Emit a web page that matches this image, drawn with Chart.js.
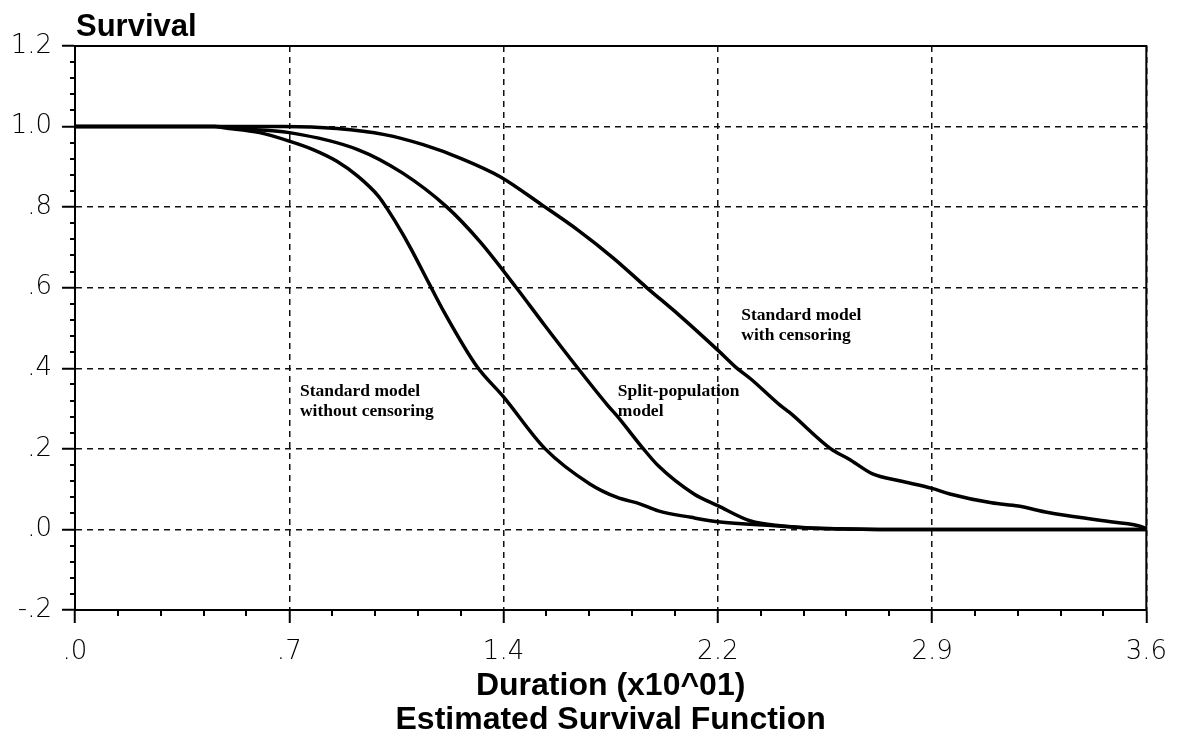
<!DOCTYPE html>
<html><head><meta charset="utf-8">
<script src="https://cdn.jsdelivr.net/npm/chart.js@4"></script>
<style>html,body{margin:0;padding:0;background:#fff}</style>
</head><body>
<canvas id="c" width="1181" height="737"></canvas>
<script>
// ---- data (duration in units of x10^01) ----
const xTickValues = [0, 0.72, 1.44, 2.16, 2.88, 3.6];
const xTickLabels = ['.0', '.7', '1.4', '2.2', '2.9', '3.6'];
const yTickValues = [-0.2, 0, 0.2, 0.4, 0.6, 0.8, 1.0, 1.2];
const yTickLabels = ['-.2', '.0', '.2', '.4', '.6', '.8', '1.0', '1.2'];

const durA  = [0, 0.47, 0.50, 0.62, 0.72, 0.80, 0.88, 0.95, 1.02, 1.05, 1.10, 1.13, 1.19, 1.24, 1.35, 1.44, 1.58, 1.73, 1.82, 1.90, 1.96, 2.07, 2.16, 2.35, 2.51, 2.70, 3.60];
const survA = [1.0, 1.0, 0.997, 0.985, 0.964, 0.943, 0.914, 0.877, 0.827, 0.795, 0.735, 0.695, 0.610, 0.540, 0.405, 0.329, 0.200, 0.113, 0.080, 0.063, 0.046, 0.030, 0.019, 0.009, 0.002, 0.0, 0.0];

const durB  = [0, 0.47, 0.54, 0.72, 0.95, 1.10, 1.25, 1.36, 1.48, 1.58, 1.69, 1.79, 1.82, 1.91, 1.96, 2.08, 2.16, 2.27, 2.37, 2.52, 2.70, 3.60];
const survB = [1.0, 1.0, 0.995, 0.985, 0.943, 0.885, 0.80, 0.715, 0.603, 0.505, 0.400, 0.308, 0.283, 0.200, 0.158, 0.088, 0.059, 0.021, 0.009, 0.002, 0.0, 0.0];

const durC  = [0, 0.70, 0.88, 1.04, 1.17, 1.30, 1.43, 1.57, 1.69, 1.81, 1.92, 2.03, 2.16, 2.22, 2.27, 2.37, 2.40, 2.54, 2.60, 2.68, 2.77, 2.88, 2.94, 3.08, 3.17, 3.27, 3.48, 3.59, 3.60];
const survC = [1.0, 1.0, 0.995, 0.980, 0.955, 0.920, 0.875, 0.805, 0.743, 0.673, 0.601, 0.532, 0.445, 0.403, 0.374, 0.308, 0.291, 0.200, 0.175, 0.138, 0.121, 0.102, 0.088, 0.066, 0.058, 0.042, 0.019, 0.005, 0.0];

const seriesNames = ['Standard model without censoring', 'Split-population model', 'Standard model with censoring'];
const yTitle = 'Survival';
const xTitle = ['Duration (x10^01)', 'Estimated Survival Function'];
const curveLabels = [
  { lines: ['Standard model', 'without censoring'], x: 0.756, y: 0.332 },
  { lines: ['Split-population', 'model'], x: 1.824, y: 0.332 },
  { lines: ['Standard model', 'with censoring'], x: 2.239, y: 0.521 }
];
const xMinorStep = 0.144;
const yMinorStep = 0.04;

const toPts = (xs, ys) => xs.map((x, i) => ({ x: x, y: ys[i] }));

const decor = {
  id: 'decor',
  afterDraw(chart) {
    const { ctx, chartArea: a, scales: { x, y } } = chart;
    ctx.save();
    ctx.strokeStyle = '#000';
    ctx.lineWidth = 2;
    ctx.beginPath();
    ctx.moveTo(a.left, a.top); ctx.lineTo(a.right, a.top); ctx.lineTo(a.right, a.bottom);
    ctx.stroke();
    // minor ticks
    ctx.beginPath();
    const ny = Math.round((y.max - y.min) / yMinorStep);
    for (let i = 0; i <= ny; i++) {
      if (i % 5 === 0) continue;
      const py = Math.round(y.getPixelForValue(y.min + i * yMinorStep));
      ctx.moveTo(a.left - 5, py); ctx.lineTo(a.left, py);
    }
    const nx = Math.round((x.max - x.min) / xMinorStep);
    for (let i = 0; i <= nx; i++) {
      if (i % 5 === 0) continue;
      const px = Math.round(x.getPixelForValue(x.min + i * xMinorStep));
      ctx.moveTo(px, a.bottom); ctx.lineTo(px, a.bottom + 6);
    }
    ctx.stroke();
    // y title
    ctx.fillStyle = '#000';
    ctx.font = 'bold 31px "Liberation Sans", Arial, sans-serif';
    ctx.textAlign = 'left'; ctx.textBaseline = 'alphabetic';
    ctx.fillText(yTitle, a.left + 1, 36);
    // curve labels
    ctx.font = 'bold 17.5px "Liberation Serif", "Times New Roman", serif';
    curveLabels.forEach(l => {
      const px = x.getPixelForValue(l.x), py = y.getPixelForValue(l.y);
      l.lines.forEach((t, k) => ctx.fillText(t, px, py + k * 20));
    });
    ctx.restore();
  }
};

const mk = (label, xs, ys) => ({
  label: label, data: toPts(xs, ys), borderColor: '#000', borderWidth: 3.5,
  pointRadius: 0, fill: false, cubicInterpolationMode: 'monotone', clip: 4
});

new Chart(document.getElementById('c'), {
  type: 'line',
  data: { datasets: [mk(seriesNames[0], durA, survA), mk(seriesNames[1], durB, survB), mk(seriesNames[2], durC, survC)] },
  options: {
    responsive: false, animation: false, devicePixelRatio: 1,
    layout: { padding: { left: 0, right: 34, top: 46, bottom: 0 } },
    plugins: { legend: { display: false }, tooltip: { enabled: false } },
    scales: {
      x: {
        type: 'linear', min: 0, max: 3.6,
        afterBuildTicks: s => { s.ticks = xTickValues.map(v => ({ value: v })); },
        afterFit: s => { s.height = 127; },
        ticks: {
          callback: (v, i) => xTickLabels[i], color: '#000', padding: 14, maxRotation: 0, autoSkip: false,
          font: { family: '"DejaVu Sans", sans-serif', size: 26, weight: '200' }
        },
        grid: { color: '#111', lineWidth: 1.5, tickLength: 13, tickColor: '#000', tickWidth: 2 },
        border: { display: true, color: '#000', width: 2, dash: [6, 5] },
        title: {
          display: true, text: xTitle, color: '#000', padding: { top: 0, bottom: 0 },
          font: { family: '"Liberation Sans", Arial, sans-serif', size: 32, weight: 'bold', lineHeight: 1.06 }
        }
      },
      y: {
        type: 'linear', min: -0.2, max: 1.2,
        afterBuildTicks: s => { s.ticks = yTickValues.map(v => ({ value: v })); },
        afterFit: s => { s.width = 75; },
        ticks: {
          callback: (v, i) => yTickLabels[i], color: '#000', padding: 10, autoSkip: false,
          font: { family: '"DejaVu Sans", sans-serif', size: 26, weight: '200' }
        },
        grid: { color: '#111', lineWidth: 1.5, tickLength: 13, tickColor: '#000', tickWidth: 2 },
        border: { display: true, color: '#000', width: 2, dash: [6, 5] }
      }
    }
  },
  plugins: [decor]
});
</script>
</body></html>
